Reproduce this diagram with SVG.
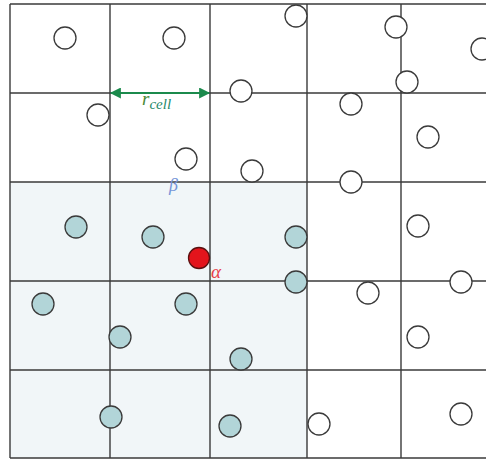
<svg xmlns="http://www.w3.org/2000/svg" width="486" height="459" viewBox="0 0 486 459">
<defs>
<style>
.grid{stroke:#3a3a3a;stroke-width:1.4;fill:none}
.open{fill:#fff;stroke:#3a3a3a;stroke-width:1.3}
.nb{fill:#b2d5d8;stroke:#3a3a3a;stroke-width:1.3}
.lbl{font-family:"Liberation Serif",serif;font-style:italic}
</style>
<marker id="ah" viewBox="0 0 10 10" refX="9" refY="5" markerWidth="13" markerHeight="11" markerUnits="userSpaceOnUse" orient="auto-start-reverse">
<path d="M0,0 L10,5 L0,10 z" fill="#1b8a4c"/>
</marker>
</defs>
<rect width="486" height="459" fill="#fff"/>
<rect x="10" y="182" width="297" height="276" fill="#f1f6f8"/>
<g id="grid" class="grid">
<line x1="10" y1="4" x2="486" y2="4"/>
<line x1="10" y1="93" x2="486" y2="93"/>
<line x1="10" y1="182" x2="486" y2="182"/>
<line x1="10" y1="281" x2="486" y2="281"/>
<line x1="10" y1="370" x2="486" y2="370"/>
<line x1="10" y1="458" x2="486" y2="458"/>
<line x1="10" y1="4" x2="10" y2="458"/>
<line x1="110" y1="4" x2="110" y2="458"/>
<line x1="210" y1="4" x2="210" y2="458"/>
<line x1="307" y1="4" x2="307" y2="458"/>
<line x1="401" y1="4" x2="401" y2="458"/>
</g>
<g id="particles-open">
<circle class="open" cx="65" cy="38" r="11"/>
<circle class="open" cx="174" cy="38" r="11"/>
<circle class="open" cx="241" cy="91" r="11"/>
<circle class="open" cx="98" cy="115" r="11"/>
<circle class="open" cx="186" cy="159" r="11"/>
<circle class="open" cx="252" cy="171" r="11"/>
<circle class="open" cx="296" cy="16" r="11"/>
<circle class="open" cx="396" cy="27" r="11"/>
<circle class="open" cx="482" cy="49" r="11"/>
<circle class="open" cx="407" cy="82" r="11"/>
<circle class="open" cx="351" cy="104" r="11"/>
<circle class="open" cx="428" cy="137" r="11"/>
<circle class="open" cx="351" cy="182" r="11"/>
<circle class="open" cx="418" cy="226" r="11"/>
<circle class="open" cx="461" cy="282" r="11"/>
<circle class="open" cx="368" cy="293" r="11"/>
<circle class="open" cx="418" cy="337" r="11"/>
<circle class="open" cx="319" cy="424" r="11"/>
<circle class="open" cx="461" cy="414" r="11"/>
</g>
<g id="particles-neighbour">
<circle class="nb" cx="76" cy="227" r="11"/>
<circle class="nb" cx="153" cy="237" r="11"/>
<circle class="nb" cx="296" cy="237" r="11"/>
<circle class="nb" cx="296" cy="282" r="11"/>
<circle class="nb" cx="43" cy="304" r="11"/>
<circle class="nb" cx="186" cy="304" r="11"/>
<circle class="nb" cx="120" cy="337" r="11"/>
<circle class="nb" cx="241" cy="359" r="11"/>
<circle class="nb" cx="111" cy="417" r="11"/>
<circle class="nb" cx="230" cy="426" r="11"/>
</g>
<g id="alpha">
<circle cx="199" cy="258" r="10.5" fill="#e3141c" stroke="#5a1010" stroke-width="1.3"/>
<text class="lbl" x="211" y="278" font-size="19" fill="#e8404a">α</text>
</g>
<g id="beta">
<text class="lbl" x="169" y="191" font-size="18" fill="#7494d8">β</text>
</g>
<g id="connectors">
<line x1="111" y1="93" x2="209" y2="93" stroke="#1b8a4c" stroke-width="2" marker-start="url(#ah)" marker-end="url(#ah)"/>
</g>
<g id="rcell">
<text class="lbl" x="142" y="105" font-size="19" fill="#4a8a36">r<tspan dy="4" font-size="15" fill="#1f8a6a">cell</tspan></text>
</g>
</svg>
